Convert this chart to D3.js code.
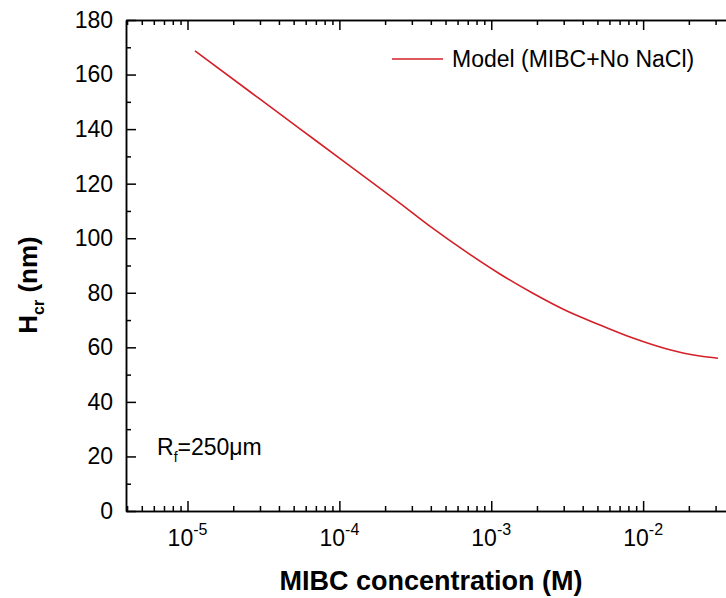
<html>
<head>
<title>Hcr vs MIBC</title>
<script src="https://d3js.org/d3.v7.min.js"></script>
</head>
<style>
  body { margin: 0; background: #fff; }
  .axis path, .axis line { fill: none; stroke: black; stroke-width: 1.5; }
  .axis text { font-family: Arial, "Liberation Sans", sans-serif; font-size: 23px; fill: black; }
  .lbl { font-family: Arial, "Liberation Sans", sans-serif; fill: black; }
</style>
<body>
<svg id="chart" width="726" height="598"></svg>
<script>
// MIBC concentration (M) and critical film thickness (nm)
const conc = [1.12e-5, 2.58e-5, 5.50e-5, 1.01e-4, 2.51e-4, 4.13e-4, 6.92e-4, 1.14e-3,
              1.88e-3, 3.15e-3, 5.20e-3, 8.57e-3, 1.435e-2, 2.365e-2, 3.11e-2];
const hcr  = [168.7, 153.7, 140.1, 129.2, 112.8, 103.6, 94.8, 86.9,
              79.8, 73.3, 68.2, 63.4, 59.4, 56.8, 56.0];
const yMajor = [0, 20, 40, 60, 80, 100, 120, 140, 160, 180];
const yMinor = [10, 30, 50, 70, 90, 110, 130, 150, 170];
const xMajorExp = [-5, -4, -3, -2, -1];
const xLabelExp = [-5, -4, -3, -2];

const svg = d3.select("svg#chart");
const mLeft = 126, mTop = 20, mBottom = 511, mRight = 795;

const x = d3.scaleLog().domain([Math.pow(10, -5.405), 0.1]).range([mLeft, mRight]);
const y = d3.scaleLinear().domain([0, 180]).range([mBottom, mTop]);

let xMinor = [];
for (let e = -6; e <= -1; e++) {
  for (let k = 2; k <= 9; k++) {
    let v = k * Math.pow(10, e);
    if (v >= x.domain()[0] && v <= x.domain()[1]) xMinor.push(v);
  }
}
const xMajor = xMajorExp.map(e => Math.pow(10, e));

// y axes (left + right), ticks pointing inward
svg.append("g").attr("class", "axis").attr("transform", "translate(" + mLeft + ",0)")
  .call(d3.axisLeft(y).tickValues(yMajor).tickSize(-10).tickPadding(13).tickSizeOuter(0));
svg.append("g").attr("class", "axis").attr("transform", "translate(" + mLeft + ",0)")
  .call(d3.axisLeft(y).tickValues(yMinor).tickSize(-5).tickFormat("").tickSizeOuter(0));
svg.append("g").attr("class", "axis").attr("transform", "translate(" + mRight + ",0)")
  .call(d3.axisRight(y).tickValues(yMajor).tickSize(-10).tickFormat("").tickSizeOuter(0));

// x axes (bottom + top)
svg.append("g").attr("class", "axis").attr("transform", "translate(0," + mBottom + ")")
  .call(d3.axisBottom(x).tickValues(xMajor).tickSize(-10).tickFormat("").tickSizeOuter(0));
svg.append("g").attr("class", "axis").attr("transform", "translate(0," + mBottom + ")")
  .call(d3.axisBottom(x).tickValues(xMinor).tickSize(-5).tickFormat("").tickSizeOuter(0));
svg.append("g").attr("class", "axis").attr("transform", "translate(0," + mTop + ")")
  .call(d3.axisTop(x).tickValues(xMajor).tickSize(-10).tickFormat("").tickSizeOuter(0));
svg.append("g").attr("class", "axis").attr("transform", "translate(0," + mTop + ")")
  .call(d3.axisTop(x).tickValues(xMinor).tickSize(-5).tickFormat("").tickSizeOuter(0));

// x tick labels with superscript exponents
const xl = svg.append("g").selectAll("text").data(xLabelExp).enter().append("text")
  .attr("class", "lbl").attr("font-size", 23).attr("text-anchor", "middle")
  .attr("x", d => x(Math.pow(10, d)))
  .attr("y", 546);
xl.append("tspan").text("10");
xl.append("tspan").attr("dy", -11).attr("font-size", 16).text(d => "-" + Math.abs(d));

// the curve
const line = d3.line().x(d => x(d[0])).y(d => y(d[1])).curve(d3.curveMonotoneX);
svg.append("path").datum(conc.map((c, i) => [c, hcr[i]]))
  .attr("d", line).attr("fill", "none").attr("stroke", "#d42028").attr("stroke-width", 1.6);

// legend
svg.append("line").attr("x1", 392).attr("x2", 443).attr("y1", 59).attr("y2", 59)
  .attr("stroke", "#d42028").attr("stroke-width", 1.6);
svg.append("text").attr("class", "lbl").attr("x", 452).attr("y", 67).attr("font-size", 23)
  .text("Model (MIBC+No NaCl)");

// annotation
const ann = svg.append("text").attr("class", "lbl").attr("x", 157).attr("y", 455).attr("font-size", 23);
ann.append("tspan").text("R");
ann.append("tspan").attr("dy", 7).attr("font-size", 14).text("f");
ann.append("tspan").attr("dy", -7).text("=250\u03bcm");

// axis titles
svg.append("text").attr("class", "lbl").attr("x", 431).attr("y", 590)
  .attr("text-anchor", "middle").attr("font-size", 27).attr("font-weight", "bold")
  .text("MIBC concentration (M)");
const yt = svg.append("text").attr("class", "lbl").attr("transform", "translate(37,285) rotate(-90)")
  .attr("text-anchor", "middle").attr("font-size", 26).attr("font-weight", "bold");
yt.append("tspan").text("H");
yt.append("tspan").attr("dy", 7).attr("font-size", 16).text("cr");
yt.append("tspan").attr("dy", -7).text(" (nm)");
</script>
</body>
</html>
